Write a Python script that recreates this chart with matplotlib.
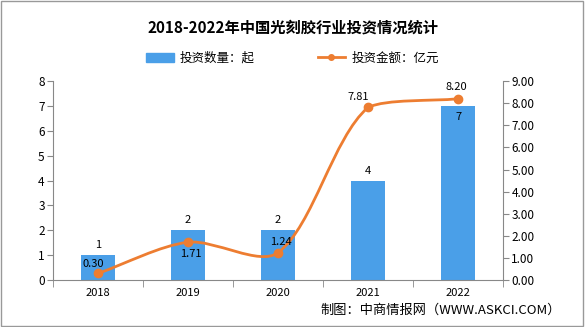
import matplotlib.pyplot as plt
import numpy as np
from matplotlib.path import Path
from matplotlib.patches import PathPatch, Rectangle
from matplotlib.lines import Line2D

plt.rcParams['font.family'] = ['Noto Sans CJK SC', 'DejaVu Sans']

years = ['2018', '2019', '2020', '2021', '2022']
counts = [1, 2, 2, 4, 7]
amounts = [0.30, 1.71, 1.24, 7.81, 8.20]

bar_color = '#4A9FE8'
line_color = '#ED7D31'


def smooth_path(xs, ys, sx, sy, smooth=0.3):
    # smoothed line like the original chart: bezier control points
    # computed in pixel units, kept inside the bounding box of the data
    pts = np.array([(xv * sx, yv * sy) for xv, yv in zip(xs, ys)])
    lo, hi = pts.min(axis=0), pts.max(axis=0)
    n = len(pts)
    cps = []
    for i in range(n):
        p = pts[i]
        prev = pts[max(i - 1, 0)]
        nxt = pts[min(i + 1, n - 1)]
        v = (nxt - prev) * smooth
        d0 = np.hypot(*(p - prev))
        d1 = np.hypot(*(p - nxt))
        s = d0 + d1
        d0, d1 = d0 / s, d1 / s
        cps.append(np.clip(p - v * d0, lo, hi))
        cps.append(np.clip(p + v * d1, lo, hi))
    cps = cps[1:]
    verts = [pts[0]]
    codes = [Path.MOVETO]
    for i in range(1, n):
        verts += [cps[2 * (i - 1)], cps[2 * (i - 1) + 1], pts[i]]
        codes += [Path.CURVE4] * 3
    verts = [(vx / sx, vy / sy) for vx, vy in verts]
    return Path(verts, codes)


fig = plt.figure(figsize=(5.85, 3.27), dpi=100)
fig.patches.append(Rectangle((0.002, 0.003), 0.995, 0.994, transform=fig.transFigure,
                             fill=False, edgecolor='#999999', linewidth=1))

ax = fig.add_axes([0.0906, 0.1437, 0.7694, 0.6083])
x = np.arange(len(years))
ax.bar(x, counts, width=0.37, color=bar_color, zorder=2)
ax.set_xlim(-0.5, len(years) - 0.5)
ax.set_ylim(0, 8)
ax.set_yticks(range(0, 9))
ax.set_xticks(x)
ax.set_xticklabels(years)
ax.set_xticks(np.arange(-0.5, len(years), 1.0), minor=True)
ax.tick_params(axis='x', which='major', length=0, labelsize=8, pad=6)
ax.tick_params(axis='x', which='minor', length=5, color='#888888')
ax.tick_params(axis='y', length=4, color='#888888', labelsize=8.5, pad=2)
for s in ['top', 'right']:
    ax.spines[s].set_visible(False)
ax.spines['left'].set_color('#888888')
ax.spines['bottom'].set_color('#888888')

for xi, c in zip(x, counts):
    if c == max(counts):
        ax.text(xi, c - 0.25, str(c), ha='center', va='top', fontsize=8, zorder=5)
    else:
        ax.text(xi, c + 0.2, str(c), ha='center', va='bottom', fontsize=8, zorder=5)

ax2 = ax.twinx()
ax2.set_ylim(0, 9)
ax2.set_yticks(range(0, 10))
ax2.set_yticklabels(['%.2f' % v for v in range(0, 10)])
ax2.tick_params(axis='y', length=4, color='#888888', labelsize=8.5, pad=2)
for s in ['top', 'left', 'bottom']:
    ax2.spines[s].set_visible(False)
ax2.spines['right'].set_color('#888888')

ax2.add_patch(PathPatch(smooth_path(list(x), amounts, 90.0, 22.1), fill=False,
                        edgecolor=line_color, linewidth=2, zorder=3))
ax2.plot(x, amounts, 'o', color=line_color, markersize=6, zorder=4)

# (dx, dy, va) for each amount label
offsets = [(-0.05, 0.2, 'bottom'), (0.03, -0.3, 'top'), (0.03, 0.25, 'bottom'),
           (-0.11, 0.25, 'bottom'), (-0.02, 0.3, 'bottom')]
for xi, v, (dx, dy, va) in zip(x, amounts, offsets):
    ax2.text(xi + dx, v + dy, '%.2f' % v, ha='center', va=va, fontsize=8, zorder=5)

fig.text(0.5, 0.915, '2018-2022年中国光刻胶行业投资情况统计', ha='center', va='center',
         fontsize=11, fontweight='bold')

handles = [Rectangle((0, 0), 1, 1, color=bar_color),
           Line2D([0], [0], color=line_color, linewidth=2, marker='o', markersize=4)]
fig.legend(handles, ['投资数量：起', '投资金额：亿元'], loc='center', bbox_to_anchor=(0.5, 0.822),
           ncol=2, frameon=False, fontsize=9, handlelength=2.2, handleheight=0.8,
           columnspacing=5, handletextpad=0.5)

fig.text(0.958, 0.05, '制图：中商情报网（WWW.ASKCI.COM）', ha='right', va='center', fontsize=9.5)

fig.savefig('out.png', dpi=100)
